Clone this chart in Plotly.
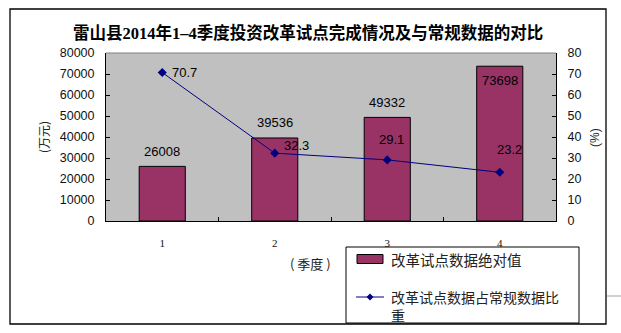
import plotly.graph_objects as go

# Quarterly data
quarters = ["1", "2", "3", "4"]
abs_values = [26008, 39536, 49332, 73698]      # 万元
share_pct = [70.7, 32.3, 29.1, 23.2]           # %

title_text = "雷山县2014年1–4季度投资改革试点完成情况及与常规数据的对比"
bar_name = "改革试点数据绝对值"
line_name = "改革试点数据占常规数据比重"

W, H = 621, 333
L, R, T, B = 106, 556, 53, 221  # plot area in pixels


def px(x):
    return (x - L) / (R - L)


def py(y):
    return (B - y) / (B - T)


SANS = "Liberation Sans, Arial, Noto Sans CJK SC"
CJK = "Noto Sans CJK SC, Liberation Sans"
BAR_COLOR = "#993366"
LINE_COLOR = "#000080"

fig = go.Figure()
fig.add_trace(go.Bar(
    x=quarters, y=abs_values, name=bar_name,
    marker=dict(color=BAR_COLOR, line=dict(color="black", width=1)),
    showlegend=False, yaxis="y",
))
fig.add_trace(go.Scatter(
    x=quarters, y=share_pct, name=line_name, mode="lines+markers",
    line=dict(color=LINE_COLOR, width=1),
    marker=dict(symbol="diamond", size=7, color=LINE_COLOR),
    showlegend=False, yaxis="y2",
))


def note(x, y, text, size, family, xref="paper", yref="paper", **kw):
    d = dict(x=x, y=y, xref=xref, yref=yref, text=text, showarrow=False,
             xanchor="center", yanchor="middle",
             font=dict(family=family, size=size, color=kw.pop("color", "black")))
    d.update(kw)
    return d


annotations = []
# value labels on bars (category positions given by index)
for i, v in enumerate(abs_values):
    shift = -14 if i == len(abs_values) - 1 else 15
    annotations.append(note(i, v, str(v), 13, SANS, xref="x", yref="y", yshift=shift))
# value labels on the line
line_offsets = [(22, 0), (22, 8), (4, 20), (10, 23)]
for i, (v, (dx, dy)) in enumerate(zip(share_pct, line_offsets)):
    annotations.append(note(i, v, f"{v}", 13, SANS, xref="x", yref="y2",
                            xshift=dx, yshift=dy))

# title and axis titles
annotations.append(note(px(308), py(33), f"<b>{title_text}</b>", 16.5,
                        "Liberation Serif, Noto Sans CJK SC"))
annotations.append(note(px(43), py(137), "(万元)", 12, CJK, color="#222", textangle=-90))
annotations.append(note(px(595), py(138), "(%)", 12, SANS, color="#222", textangle=-90))
annotations.append(note(px(310), py(263), "( 季度 )", 13, CJK, color="#222"))

# legend box drawn by hand
lg_l, lg_r, lg_t, lg_b = 346, 579, 247, 323
annotations.append(note(px(389), py(259), bar_name, 14.5, CJK, color="#222", xanchor="left"))
annotations.append(note(px(389), py(305.5), line_name[:-1] + "<br>" + line_name[-1], 14,
                        CJK, color="#222", xanchor="left", align="left"))

shapes = [
    # outer frame
    dict(type="rect", xref="paper", yref="paper", x0=px(10), x1=px(606),
         y0=py(324), y1=py(9), line=dict(color="black", width=1.3), layer="above"),
    # plot area top border
    dict(type="line", xref="paper", yref="paper", x0=0, x1=1, y0=1, y1=1,
         line=dict(color="#808080", width=1), layer="above"),
    # legend box
    dict(type="rect", xref="paper", yref="paper", x0=px(lg_l), x1=px(lg_r),
         y0=py(lg_b), y1=py(lg_t), line=dict(color="black", width=1),
         fillcolor="white", layer="below"),
    # legend swatch for bars
    dict(type="rect", xref="paper", yref="paper", x0=px(357), x1=px(383),
         y0=py(263.5), y1=py(254.5), line=dict(color="black", width=1),
         fillcolor=BAR_COLOR, layer="above"),
    # legend sample for line
    dict(type="line", xref="paper", yref="paper", x0=px(356), x1=px(384),
         y0=py(297), y1=py(297), line=dict(color=LINE_COLOR, width=1), layer="above"),
    dict(type="path", xref="paper", yref="paper",
         path=f"M {px(370)},{py(293.5)} L {px(373.5)},{py(297)} L {px(370)},{py(300.5)} L {px(366.5)},{py(297)} Z",
         fillcolor=LINE_COLOR, line=dict(color=LINE_COLOR, width=0), layer="above"),
    # short grey line at the right edge
    dict(type="line", xref="paper", yref="paper", x0=px(607), x1=px(621),
         y0=py(296), y1=py(296), line=dict(color="#a0a0a0", width=1), layer="above"),
]

fig.update_layout(
    width=W, height=H,
    margin=dict(l=L, r=W - R, t=T, b=H - B),
    paper_bgcolor="white", plot_bgcolor="#C0C0C0",
    bargap=0.59,
    xaxis=dict(type="category", showgrid=False, showline=True, linecolor="black",
               linewidth=1, ticks="inside", ticklen=4, tickcolor="black",
               tickson="boundaries", ticklabelstandoff=12,
               tickfont=dict(family="Liberation Serif, serif", size=11, color="#111"),
               zeroline=False),
    yaxis=dict(range=[0, 80000], dtick=10000, tickformat="d", showgrid=False,
               showline=True, linecolor="black", linewidth=1, ticks="inside",
               ticklen=4, tickcolor="black", ticklabelstandoff=8, zeroline=False,
               tickfont=dict(family=SANS, size=12.5, color="#111")),
    yaxis2=dict(range=[0, 80], dtick=10, overlaying="y", side="right",
                showgrid=False, showline=True, linecolor="black", linewidth=1,
                ticks="inside", ticklen=4, tickcolor="black", ticklabelstandoff=8,
                zeroline=False, tickfont=dict(family=SANS, size=12.5, color="#111")),
    annotations=annotations,
    shapes=shapes,
)

fig.write_html("out.html")
